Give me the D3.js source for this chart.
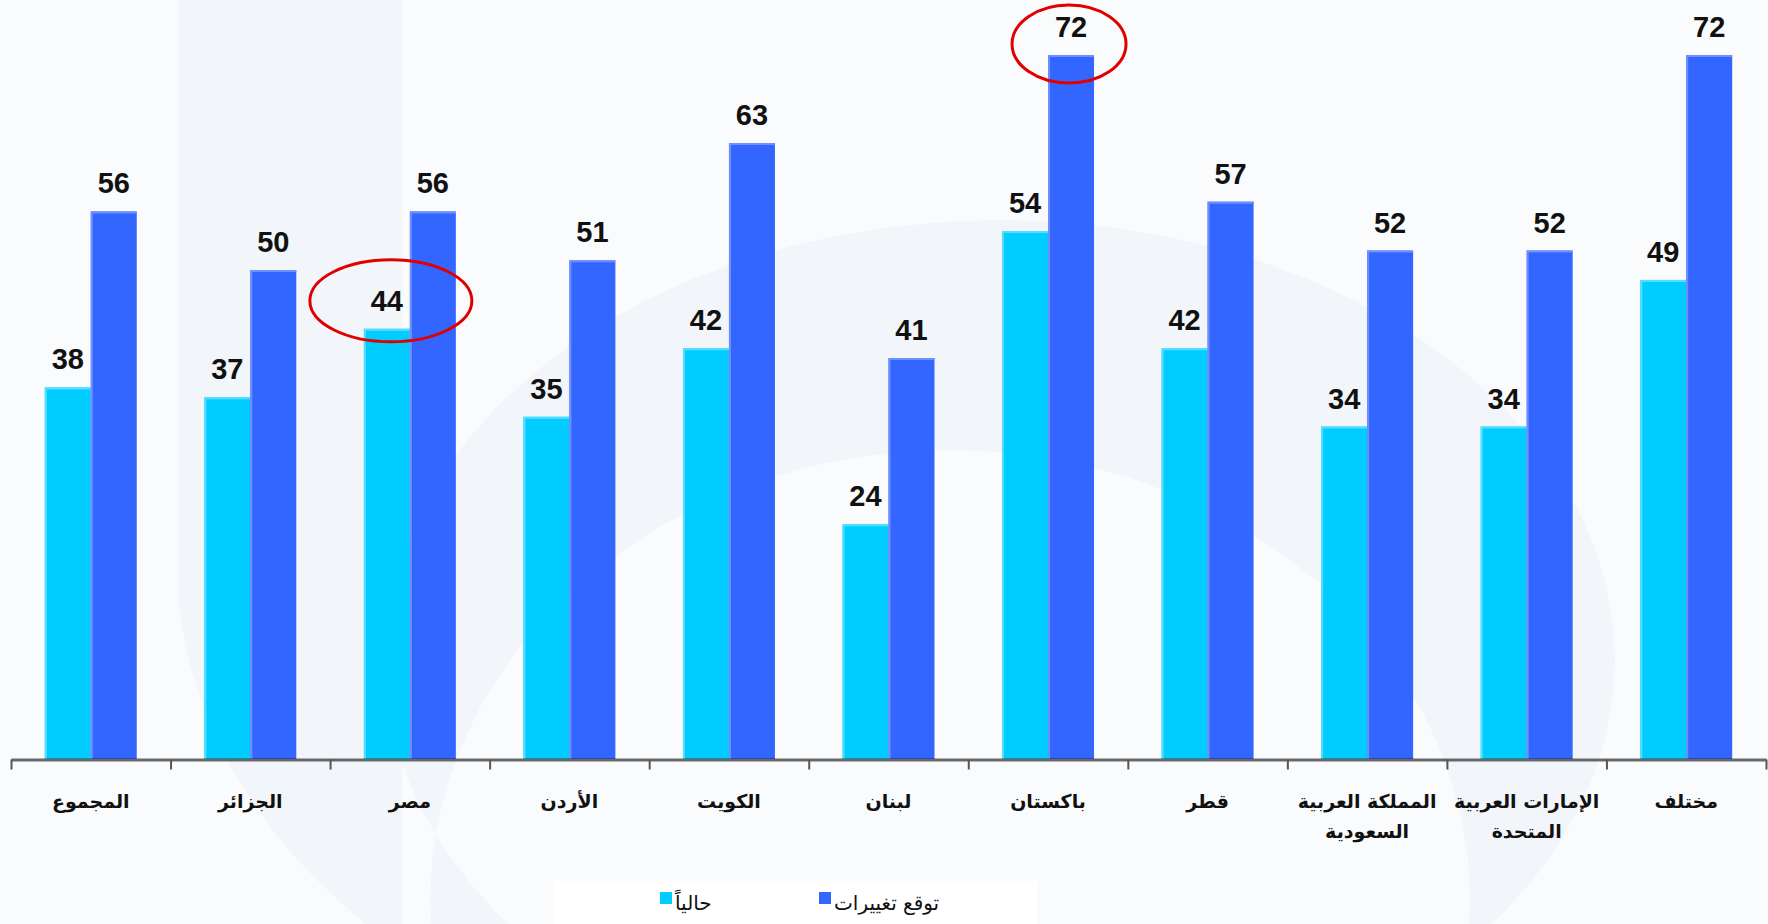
<!DOCTYPE html>
<html>
<head>
<meta charset="utf-8">
<script src="https://cdn.jsdelivr.net/npm/d3@7"></script>
<style>
  html, body { margin: 0; padding: 0; background: #fafbfd; }
  svg { display: block; }
</style>
</head>
<body>
<div id="chart"></div>
<script>
// data
var categories = ["المجموع", "الجزائر", "مصر", "الأردن", "الكويت", "لبنان", "باكستان", "قطر",
                  "المملكة العربية السعودية", "الإمارات العربية المتحدة", "مختلف"];
var seriesNames = ["حالياً", "توقع تغييرات"];
var current = [38, 37, 44, 35, 42, 24, 54, 42, 34, 34, 49];
var expected = [56, 50, 56, 51, 63, 41, 72, 57, 52, 52, 72];
// circled labels: [category index, series index]
var circled = [[2, 0], [6, 1]];

var W = 1768, H = 924;
var colors = ["#00ccff", "#3366ff"];
var edges = ["#55ddff", "#6f8fff"];

var svg = d3.select("#chart").append("svg").attr("width", W).attr("height", H);

// faint "b" watermark in the background
svg.append("rect").attr("width", W).attr("height", H).attr("fill", "#fafbfd");
var wm = svg.append("g").attr("fill", "#f2f5f9");
wm.append("path").attr("d", "M178,0 L402,0 L402,924 L366,924 Q200,790 178,600 Z");
var bowl = d3.path();
function ellipse(p, cx, cy, rx, ry) {
    p.moveTo(cx + rx, cy);
    for (var a = 1; a <= 72; a++) {
        var t = a / 72 * 2 * Math.PI;
        p.lineTo(cx + rx * Math.cos(t), cy + ry * Math.sin(t));
    }
    p.closePath();
}
ellipse(bowl, 1000, 660, 615, 440);
ellipse(bowl, 950, 900, 520, 450);
wm.append("path").attr("fill-rule", "evenodd").attr("d", bowl.toString());

var x = d3.scaleBand().domain(categories).range([11, 1766]).padding(0);
var xSub = d3.scaleBand().domain(seriesNames).range([0, x.bandwidth()]).paddingInner(0).paddingOuter(0.735);
var y = d3.scaleLinear().domain([0, 72]).range([759, 55]);

var rows = categories.map(function(c, i) {
    return {cat: c, vals: [current[i], expected[i]]};
});

var groups = svg.selectAll(".grp").data(rows).enter().append("g")
    .attr("class", "grp")
    .attr("transform", function(d) { return "translate(" + x(d.cat) + ",0)"; });

var bars = groups.selectAll(".bar")
    .data(function(d) { return d.vals.map(function(v, j) { return {s: seriesNames[j], j: j, v: v}; }); })
    .enter();

bars.append("rect")
    .attr("x", function(d) { return xSub(d.s); })
    .attr("y", function(d) { return y(d.v); })
    .attr("width", xSub.bandwidth())
    .attr("height", function(d) { return y(0) - y(d.v); })
    .attr("fill", function(d) { return colors[d.j]; });

// lighter top/left edge on each bar
bars.append("path")
    .attr("d", function(d) {
        var x0 = xSub(d.s) + 1, y0 = y(d.v) + 1;
        return "M" + x0 + "," + y(0) + " L" + x0 + "," + y0 + " L" + (xSub(d.s) + xSub.bandwidth()) + "," + y0;
    })
    .attr("fill", "none")
    .attr("stroke", function(d) { return edges[d.j]; })
    .attr("stroke-width", 2);

bars.append("text")
    .attr("x", function(d) { return xSub(d.s) + xSub.bandwidth() / 2; })
    .attr("y", function(d) { return y(d.v) - 18; })
    .attr("text-anchor", "middle")
    .attr("font-family", "Liberation Sans, Arial, sans-serif")
    .attr("font-weight", "bold")
    .attr("font-size", 29)
    .attr("fill", "#111")
    .text(function(d) { return d.v; });

// x axis with ticks between the groups
var xTick = d3.scaleLinear().domain([0, categories.length]).range([11, 1766]);
var axis = svg.append("g").attr("transform", "translate(0,759.5)")
    .call(d3.axisBottom(xTick).tickValues(d3.range(categories.length + 1)).tickSize(10).tickSizeOuter(0).tickFormat(""));
axis.select(".domain").attr("stroke", "#000").attr("stroke-opacity", 0.58).attr("stroke-width", 3);
axis.selectAll(".tick line").attr("stroke", "#555").attr("stroke-width", 2);

// category labels, long ones on two lines
var labels = svg.selectAll(".lab").data(categories).enter().append("text")
    .attr("class", "lab")
    .attr("x", function(d) { return x(d) + x.bandwidth() / 2; })
    .attr("y", 808)
    .attr("text-anchor", "middle")
    .attr("font-family", "DejaVu Sans, sans-serif")
    .attr("font-weight", "bold")
    .attr("font-size", 19)
    .attr("fill", "#111");

labels.each(function(d) {
    var words = d.split(" ");
    var lines = words.length > 2 ? [words.slice(0, 2).join(" "), words.slice(2).join(" ")] : [d];
    var t = d3.select(this);
    lines.forEach(function(l, k) {
        t.append("tspan").attr("x", x(d) + x.bandwidth() / 2).attr("dy", k == 0 ? 0 : 30).text(l);
    });
});

// red circles round two labels
svg.selectAll(".ring").data(circled).enter().append("ellipse")
    .attr("cx", function(d) { return x(categories[d[0]]) + xSub(seriesNames[d[1]]) + xSub.bandwidth() / 2 + (d[1] == 0 ? 4 : -2); })
    .attr("cy", function(d) {
        var v = d[1] == 0 ? current[d[0]] : expected[d[0]];
        return d[1] == 0 ? y(v) - 28 : y(v) - 11;
    })
    .attr("rx", function(d) { return d[1] == 0 ? 81 : 57; })
    .attr("ry", function(d) { return d[1] == 0 ? 41 : 39; })
    .attr("fill", "none")
    .attr("stroke", "#e00000")
    .attr("stroke-width", 3);

// legend
var legend = svg.append("g");
legend.append("rect").attr("x", 553).attr("y", 881).attr("width", 484).attr("height", 50).attr("fill", "#ffffff");
var legX = [660, 819];
seriesNames.forEach(function(s, i) {
    legend.append("rect").attr("x", legX[i]).attr("y", 892).attr("width", 12).attr("height", 12).attr("fill", colors[i]);
    legend.append("text")
        .attr("x", legX[i] + 15)
        .attr("y", 910)
        .attr("font-family", "DejaVu Sans, sans-serif")
        .attr("font-size", 20)
        .attr("fill", "#111")
        .text(s);
});
</script>
</body>
</html>
